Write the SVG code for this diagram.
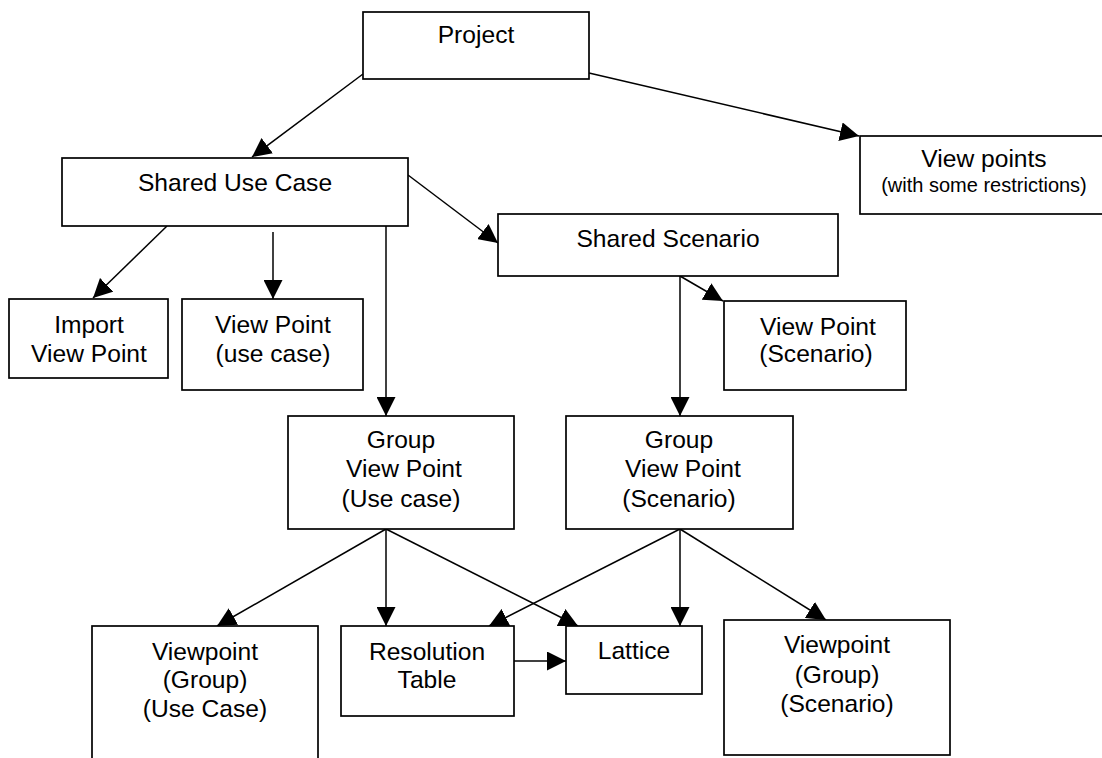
<svg xmlns="http://www.w3.org/2000/svg" width="1102" height="758" viewBox="0 0 1102 758">
<style>
.box{fill:#fff;stroke:#000;stroke-width:1.7}
.t{font-family:"Liberation Sans",Arial,sans-serif;font-size:24.6px;fill:#000;text-anchor:middle}
.s{font-family:"Liberation Sans",Arial,sans-serif;font-size:20px;fill:#000;text-anchor:middle}
.c{stroke:#000;stroke-width:1.5;fill:none;marker-end:url(#ah)}
</style>
<defs>
<marker id="ah" markerUnits="userSpaceOnUse" markerWidth="19" markerHeight="19" refX="19" refY="9.5" orient="auto">
<path d="M0,0 L19,9.5 L0,19 z" fill="#000"/>
</marker>
</defs>
<rect width="1102" height="758" fill="#fff"/>
<g id="connectors">
<line class="c" x1="363" y1="74" x2="252" y2="157"/>
<line class="c" x1="589" y1="73" x2="859" y2="136"/>
<line class="c" x1="408" y1="175" x2="498" y2="243"/>
<line class="c" x1="167" y1="226" x2="93" y2="298"/>
<line class="c" x1="273" y1="232" x2="273" y2="299"/>
<line class="c" x1="386" y1="226" x2="386" y2="416"/>
<line class="c" x1="680" y1="276" x2="723" y2="301"/>
<line class="c" x1="680" y1="276" x2="680" y2="416"/>
<line class="c" x1="386" y1="529" x2="217" y2="626"/>
<line class="c" x1="386" y1="529" x2="386" y2="626"/>
<line class="c" x1="386" y1="529" x2="578" y2="626"/>
<line class="c" x1="680" y1="529" x2="489" y2="626"/>
<line class="c" x1="680" y1="529" x2="680" y2="626"/>
<line class="c" x1="680" y1="529" x2="826" y2="620"/>
<line class="c" x1="514" y1="661" x2="566" y2="661"/>
</g>
<g id="project">
<rect class="box" x="363" y="12" width="226" height="67"/>
<text class="t" x="476" y="43">Project</text>
</g>
<g id="shared-use-case">
<rect class="box" x="62" y="158" width="346" height="68"/>
<text class="t" x="235" y="191">Shared Use Case</text>
</g>
<g id="view-points">
<rect class="box" x="860" y="136" width="245" height="78"/>
<text class="t" x="984" y="167">View points</text>
<text class="s" x="984" y="192">(with some restrictions)</text>
</g>
<g id="shared-scenario">
<rect class="box" x="498" y="214" width="340" height="62"/>
<text class="t" x="668" y="247">Shared Scenario</text>
</g>
<g id="import-view-point">
<rect class="box" x="9" y="299" width="159" height="79"/>
<text class="t" x="89" y="333">Import</text>
<text class="t" x="89" y="362">View Point</text>
</g>
<g id="view-point-use-case">
<rect class="box" x="182" y="299" width="181" height="91"/>
<text class="t" x="273" y="333">View Point</text>
<text class="t" x="273" y="362">(use case)</text>
</g>
<g id="view-point-scenario">
<rect class="box" x="724" y="301" width="182" height="89"/>
<text class="t" x="818" y="335">View Point</text>
<text class="t" x="816" y="362">(Scenario)</text>
</g>
<g id="group-view-point-use-case">
<rect class="box" x="288" y="416" width="226" height="113"/>
<text class="t" x="401" y="448">Group</text>
<text class="t" x="404" y="477">View Point</text>
<text class="t" x="401" y="507">(Use case)</text>
</g>
<g id="group-view-point-scenario">
<rect class="box" x="566" y="416" width="227" height="113"/>
<text class="t" x="679" y="448">Group</text>
<text class="t" x="683" y="477">View Point</text>
<text class="t" x="679" y="507">(Scenario)</text>
</g>
<g id="viewpoint-group-use-case">
<rect class="box" x="92" y="626" width="226" height="150"/>
<text class="t" x="205" y="660">Viewpoint</text>
<text class="t" x="205" y="688">(Group)</text>
<text class="t" x="205" y="717">(Use Case)</text>
</g>
<g id="resolution-table">
<rect class="box" x="341" y="626" width="173" height="90"/>
<text class="t" x="427" y="660">Resolution</text>
<text class="t" x="427" y="688">Table</text>
</g>
<g id="lattice">
<rect class="box" x="566" y="626" width="136" height="68"/>
<text class="t" x="634" y="659">Lattice</text>
</g>
<g id="viewpoint-group-scenario">
<rect class="box" x="724" y="620" width="226" height="135"/>
<text class="t" x="837" y="653">Viewpoint</text>
<text class="t" x="837" y="683">(Group)</text>
<text class="t" x="837" y="712">(Scenario)</text>
</g>
</svg>
